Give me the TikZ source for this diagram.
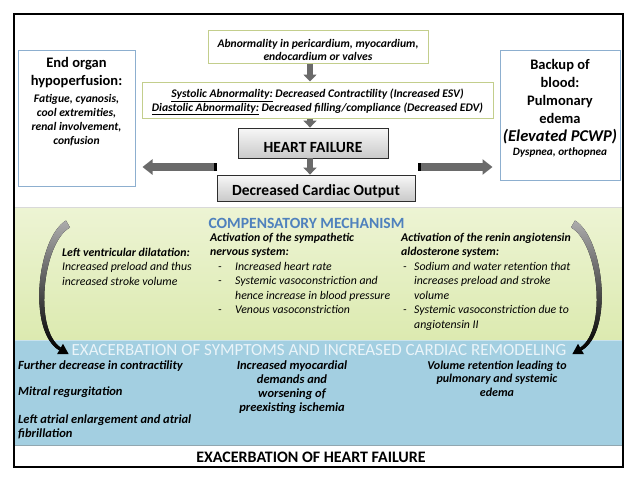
\documentclass[tikz,border=0pt]{standalone}
\usepackage{fontspec}
\setmainfont{Carlito}
\usetikzlibrary{positioning, arrows.meta}

\definecolor{mechgreentop}{HTML}{EDF4D4}
\definecolor{mechgreenbot}{HTML}{DCEAB0}
\definecolor{exacblue}{HTML}{A3CFE1}
\definecolor{oliveline}{HTML}{C3CE8C}
\definecolor{steelline}{HTML}{8DAFCF}
\definecolor{mechtitle}{HTML}{4F81BD}
\definecolor{exactitle}{HTML}{EAF4F9}
\definecolor{arrowgray}{HTML}{6A6A6A}

\tikzset{
  causebox/.style={draw=oliveline, line width=1pt, fill=white, inner sep=0pt,
    align=center, font=\fontsize{11.6}{13.5}\selectfont\bfseries\itshape},
  hfbox/.style={draw=gray!35!black, line width=0.8pt, top color=gray!6, bottom color=gray!42,
    inner sep=0pt, font=\fontsize{15.5}{17}\selectfont\bfseries},
  sidebox/.style={draw=steelline, line width=1pt, fill=white, inner sep=0pt},
  sidetitle/.style={inner sep=0pt, align=center, font=\fontsize{14.5}{18}\selectfont\bfseries},
  sidenote/.style={inner sep=0pt, align=center, font=\fontsize{11.6}{14}\selectfont\bfseries\itshape},
  coltext/.style={inner sep=0pt, anchor=north west, align=left, font=\fontsize{11.8}{14.5}\selectfont\itshape},
  blueline/.style={inner sep=0pt, align=center, font=\fontsize{12.5}{14}\selectfont\bfseries\itshape},
  downarr/.style={line width=6.5pt, arrowgray, -{Triangle[width=13pt,length=7pt]}},
  sidearr/.style={line width=8pt, arrowgray, -{Triangle[width=15pt,length=10pt]}, shorten >=7pt}
}

\newcommand{\bendarrow}{%
  \fill[top color=gray!65, bottom color=black]
    (66,220.5) .. controls (37,238) and (27,331) .. (59.2,350.3)
    -- (60.8,347.7) .. controls (33,329) and (43,242) .. (70,227.5) -- cycle;
  \fill[black] (57,354.2) -- (68.6,354) -- (63,343.8) -- cycle;
}

\begin{document}
\begin{tikzpicture}[x=1pt, y=-1pt]
  \useasboundingbox (0,0) rectangle (638,479);
  \fill[white] (0,0) rectangle (638,479);

  % bands
  \shade[top color=mechgreentop, bottom color=mechgreenbot] (14,207) rectangle (623,340);
  \fill[exacblue] (14,340) rectangle (623,445);
  \draw[gray!30] (14,207) -- (623,207);
  \draw[exacblue!60!white] (14,340) -- (623,340);
  \draw[gray!50!exacblue] (14,445) -- (623,445);
  \draw[black, line width=1.3pt] (14,14) rectangle (623,467);

  % cause chain
  \node[causebox, minimum width=220pt, minimum height=33pt] (abn) at (318,46.5)
    {\rule{0pt}{15.5pt}Abnormality in pericardium, myocardium,\\endocardium or valves};
  \node[causebox, minimum width=351pt, minimum height=36pt] (sys) at (317.5,100)
    {\rule{0pt}{11pt}\smash{\underline{Systolic Abnormality:}} Decreased Contractility (Increased ESV)\\
     \smash{\underline{Diastolic Abnormality:}} Decreased filling/compliance (Decreased EDV)};
  \node[hfbox, minimum width=150pt, minimum height=30pt] (hf) at (313,143)
    {\rule{0pt}{19.5pt}HEART FAILURE};
  \node[hfbox, minimum width=198pt, minimum height=26pt] (dco) at (316,188)
    {\rule{0pt}{17pt}Decreased Cardiac Output};

  \coordinate (col) at (310,0);
  \draw[downarr] (abn.south -| col) -- (sys.north -| col);
  \draw[downarr] (sys.south -| col) -- (hf.north -| col);
  \draw[downarr] (hf.south -| col) -- (dco.north -| col);

  % side boxes
  \node[sidebox, minimum width=117pt, minimum height=136pt] (lbox) at (76.5,118) {};
  \node[sidetitle, anchor=north] (ltitle) at (76.5,57.5) {End organ\\hypoperfusion:};
  \node[sidenote, below=5.5pt of ltitle] (lnote)
    {Fatigue, cyanosis,\\cool extremities,\\renal involvement,\\confusion};

  \node[sidebox, minimum width=120pt, minimum height=130pt] (rbox) at (560,115) {};
  \node[sidetitle, anchor=north] (rtitle) at (560,59.5)
    {Backup of\\blood:\\Pulmonary\\edema\\{\fontsize{16.5}{18}\selectfont\itshape(Elevated PCWP)}};
  \node[sidenote, font=\fontsize{11.2}{13}\selectfont\bfseries\itshape, below=2.5pt of rtitle] (rnote)
    {Dyspnea, orthopnea};

  \coordinate (ltail) at (217,167);
  \coordinate (rtail) at (418,167);
  \draw[sidearr] (ltail) -- (lbox.east |- ltail);
  \draw[sidearr] (rtail) -- (rbox.west |- rtail);
  \draw[line width=8pt, black] (ltail) -- ++(-3,0);
  \draw[line width=8pt, black] (rtail) -- ++(3,0);

  % compensatory mechanism
  \node[inner sep=0pt, text=mechtitle, font=\fontsize{15.6}{17}\selectfont\bfseries] (mech)
    at (306.5,223) {COMPENSATORY MECHANISM};
  \node[coltext] (lvd) at (62,248)
    {\textbf{Left ventricular dilatation:}\\Increased preload and thus\\increased stroke volume};
  \node[coltext, font=\fontsize{11.8}{14}\selectfont\bfseries\itshape] (sns) at (210,233)
    {Activation of the sympathetic\\nervous system:};
  \node[coltext] (snslist) at (218,262)
    {\makebox[17pt][l]{-}Increased heart rate\\
     \makebox[17pt][l]{-}Systemic vasoconstriction and\\
     \hspace*{17pt}hence increase in blood pressure\\
     \makebox[17pt][l]{-}Venous vasoconstriction};
  \node[coltext, font=\fontsize{11.8}{14}\selectfont\bfseries\itshape] (raas) at (401,233)
    {Activation of the renin angiotensin\\aldosterone system:};
  \node[coltext] (raaslist) at (403,262)
    {\makebox[11pt][l]{-}Sodium and water retention that\\
     \hspace*{11pt}increases preload and stroke\\
     \hspace*{11pt}volume\\
     \makebox[11pt][l]{-}Systemic vasoconstriction due to\\
     \hspace*{11pt}angiotensin II};

  \bendarrow
  \begin{scope}[xshift=641pt, xscale=-1]
    \bendarrow
  \end{scope}

  % exacerbation
  \node[inner sep=0pt, text=exactitle, font=\fontsize{17}{19}\selectfont] (exac) at (319,350.5)
    {EXACERBATION OF SYMPTOMS AND INCREASED CARDIAC REMODELING};
  \node[blueline, anchor=north west] (contr) at (18,360.5) {Further decrease in contractility};
  \node[blueline, anchor=north west] (mitral) at (18,387) {Mitral regurgitation};
  \node[blueline, anchor=north west, align=left] (atrial) at (18,415)
    {Left atrial enlargement and atrial\\fibrillation};
  \node[blueline, anchor=north] (isch) at (292,360.5)
    {Increased myocardial\\demands and\\worsening of\\preexisting ischemia};
  \node[blueline, anchor=north, font=\fontsize{12}{13.5}\selectfont\bfseries\itshape] (vol) at (497,360.5)
    {Volume retention leading to\\pulmonary and systemic\\edema};

  \node[inner sep=0pt, font=\fontsize{16}{18}\selectfont\bfseries] (ehf) at (311,457.5)
    {EXACERBATION OF HEART FAILURE};
\end{tikzpicture}
\end{document}
